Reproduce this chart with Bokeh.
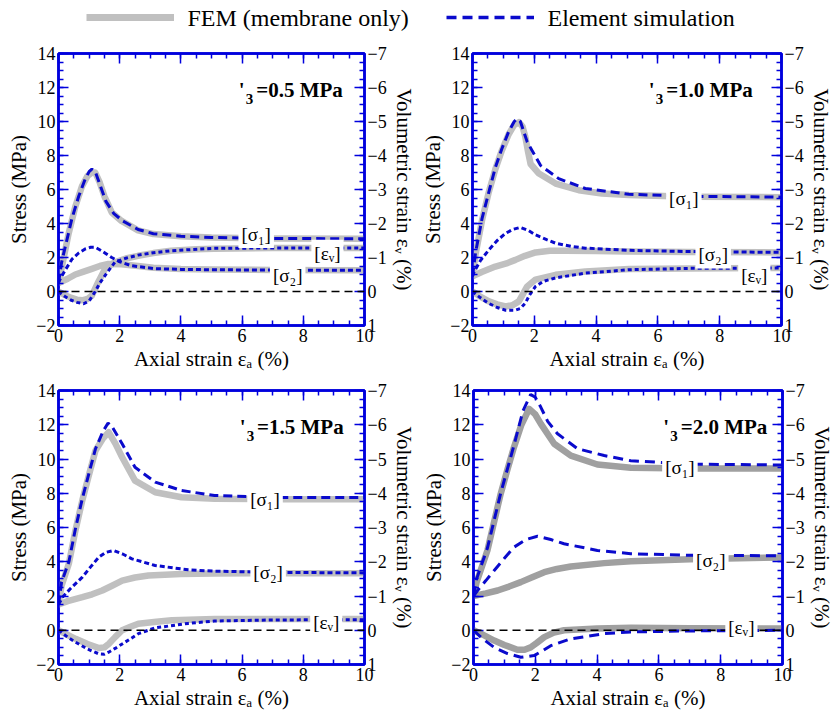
from bokeh.plotting import figure
from bokeh.models import (Range1d, LinearAxis, SingleIntervalTicker, Span, Label,
                          Legend, LegendItem)
from bokeh.core.properties import value
from bokeh.layouts import column, row
from bokeh.embed import file_html
from bokeh.resources import INLINE

# ---------------- data (axial strain %, stress MPa, volumetric strain %) ----------------
# Panel 1: sigma'3 = 0.5 MPa
p1_fem_s1_x = [0, 0.15, 0.33, 0.55, 0.77, 0.95, 1.1, 1.2, 1.35, 1.5, 1.74, 2.06, 2.6, 3.1, 4, 5, 7, 10]
p1_fem_s1_y = [0.5, 1.8, 3.4, 5.0, 6.2, 6.8, 7.0, 7.0, 6.4, 5.6, 4.65, 4.15, 3.6, 3.38, 3.25, 3.18, 3.12, 3.1]
p1_ele_s1_x = [0, 0.1, 0.23, 0.44, 0.66, 0.87, 1.0, 1.09, 1.2, 1.35, 1.55, 1.8, 2.1, 2.6, 3.1, 4, 5, 7, 10]
p1_ele_s1_y = [0.5, 1.7, 2.7, 4.3, 5.6, 6.6, 7.05, 7.2, 7.05, 6.3, 5.3, 4.6, 4.15, 3.65, 3.4, 3.25, 3.18, 3.12, 3.1]
p1_fem_s2_x = [0, 0.3, 0.55, 0.8, 1.09, 1.35, 1.63, 2.06, 2.6, 3.1, 4, 5, 7, 10]
p1_fem_s2_y = [0.5, 0.75, 1.0, 1.15, 1.33, 1.5, 1.62, 1.6, 1.5, 1.4, 1.33, 1.3, 1.27, 1.25]
p1_ele_s2_x = [0, 0.06, 0.2, 0.44, 0.65, 0.87, 1.05, 1.2, 1.4, 1.74, 2.0, 2.38, 3.1, 4, 5, 7, 10]
p1_ele_s2_y = [0.5, 0.75, 1.2, 1.9, 2.25, 2.5, 2.6, 2.6, 2.4, 2.0, 1.75, 1.52, 1.35, 1.3, 1.28, 1.26, 1.25]
p1_fem_ev_x = [0, 0.2, 0.4, 0.6, 0.77, 0.95, 1.09, 1.3, 1.52, 1.84, 2.2, 2.6, 3.1, 3.68, 4.5, 5.08, 7, 10]
p1_fem_ev_y = [0, 0.1, 0.18, 0.24, 0.26, 0.22, 0.12, -0.28, -0.66, -0.86, -0.97, -1.05, -1.13, -1.2, -1.24, -1.26, -1.28, -1.28]
p1_ele_ev_x = [0, 0.2, 0.4, 0.6, 0.82, 1.0, 1.2, 1.35, 1.52, 1.84, 2.2, 2.6, 3.1, 3.68, 5.08, 7, 10]
p1_ele_ev_y = [0, 0.14, 0.25, 0.32, 0.36, 0.28, 0.0, -0.25, -0.47, -0.86, -0.98, -1.07, -1.14, -1.2, -1.27, -1.28, -1.28]

# Panel 2: sigma'3 = 1.0 MPa
p2_fem_s1_x = [0, 0.1, 0.31, 0.52, 0.74, 0.95, 1.17, 1.35, 1.5, 1.62, 1.71, 1.8, 1.88, 2.15, 2.69, 3.44, 4.19, 5.06, 7, 10]
p2_fem_s1_y = [0.9, 2.2, 4.2, 5.8, 7.2, 8.3, 9.25, 9.8, 9.96, 9.7, 9.1, 8.2, 7.5, 6.94, 6.35, 5.96, 5.77, 5.67, 5.58, 5.55]
p2_ele_s1_x = [0, 0.1, 0.31, 0.55, 0.74, 0.95, 1.17, 1.35, 1.44, 1.55, 1.77, 2.2, 2.79, 3.65, 5.06, 7, 10]
p2_ele_s1_y = [0.9, 2.3, 4.3, 6.0, 7.3, 8.4, 9.4, 10.0, 10.15, 10.0, 8.8, 7.42, 6.64, 6.06, 5.72, 5.6, 5.55]
p2_fem_s2_x = [0, 0.3, 0.74, 1.1, 1.39, 1.7, 2.04, 2.5, 3, 4, 5, 7, 10]
p2_fem_s2_y = [0.9, 1.15, 1.47, 1.65, 1.86, 2.1, 2.3, 2.4, 2.4, 2.38, 2.35, 2.32, 2.3]
p2_ele_s2_x = [0, 0.05, 0.25, 0.53, 0.8, 1.07, 1.3, 1.55, 1.8, 2.04, 2.4, 2.69, 3.2, 3.65, 5.06, 7, 10]
p2_ele_s2_y = [0.9, 1.15, 1.8, 2.45, 3.0, 3.42, 3.65, 3.77, 3.6, 3.33, 3.05, 2.84, 2.65, 2.55, 2.42, 2.35, 2.3]
p2_fem_ev_x = [0, 0.25, 0.53, 0.8, 1.07, 1.3, 1.5, 1.65, 1.77, 2.04, 2.69, 3.65, 5.06, 7, 10]
p2_fem_ev_y = [0, 0.15, 0.29, 0.38, 0.44, 0.4, 0.29, 0.05, -0.15, -0.35, -0.49, -0.59, -0.66, -0.68, -0.69]
p2_ele_ev_x = [0, 0.25, 0.53, 0.8, 1.07, 1.39, 1.55, 1.71, 1.85, 2.04, 2.3, 2.69, 3.65, 5.06, 7, 10]
p2_ele_ev_y = [0, 0.18, 0.35, 0.47, 0.55, 0.55, 0.5, 0.34, 0.1, -0.15, -0.3, -0.4, -0.54, -0.64, -0.68, -0.69]

# Panel 3: sigma'3 = 1.5 MPa
p3_fem_s1_x = [0, 0.1, 0.34, 0.55, 0.78, 1.0, 1.21, 1.45, 1.64, 1.86, 2.08, 2.5, 3.16, 4.02, 5.1, 7, 10]
p3_fem_s1_y = [1.5, 2.6, 3.9, 5.8, 7.6, 9.1, 10.5, 11.2, 11.57, 10.9, 10.1, 8.74, 8.06, 7.77, 7.68, 7.65, 7.65]
p3_ele_s1_x = [0, 0.1, 0.34, 0.55, 0.78, 1.0, 1.21, 1.45, 1.62, 1.75, 2.08, 2.5, 3.16, 4.02, 5.1, 7, 10]
p3_ele_s1_y = [1.5, 2.8, 4.0, 5.9, 7.7, 9.2, 10.6, 11.6, 12.1, 11.9, 10.89, 9.52, 8.65, 8.16, 7.87, 7.75, 7.75]
p3_fem_s2_x = [0, 0.3, 0.78, 1.1, 1.43, 1.75, 2.08, 2.5, 2.94, 4, 5.1, 7, 10]
p3_fem_s2_y = [1.5, 1.7, 1.93, 2.1, 2.32, 2.6, 2.9, 3.08, 3.2, 3.28, 3.32, 3.33, 3.33]
p3_ele_s2_x = [0, 0.13, 0.4, 0.78, 1.05, 1.32, 1.55, 1.8, 2.1, 2.4, 3.16, 4.24, 5.1, 7, 10]
p3_ele_s2_y = [1.5, 1.93, 2.45, 3.1, 3.7, 4.27, 4.55, 4.66, 4.45, 4.17, 3.78, 3.53, 3.45, 3.38, 3.35]
p3_fem_ev_x = [0, 0.3, 0.56, 0.95, 1.32, 1.5, 1.64, 1.85, 2.08, 2.35, 2.61, 3.2, 3.7, 5.1, 7, 10]
p3_fem_ev_y = [0, 0.14, 0.25, 0.4, 0.52, 0.5, 0.4, 0.2, 0, -0.1, -0.19, -0.25, -0.29, -0.33, -0.33, -0.33]
p3_ele_ev_x = [0, 0.3, 0.56, 0.95, 1.32, 1.5, 1.64, 1.85, 2.08, 2.35, 2.61, 3.16, 4.24, 5.1, 7, 10]
p3_ele_ev_y = [0, 0.2, 0.35, 0.55, 0.69, 0.7, 0.64, 0.53, 0.4, 0.25, 0.1, -0.07, -0.2, -0.27, -0.3, -0.31]

# Panel 4: sigma'3 = 2.0 MPa
p4_fem_s1_x = [0, 0.1, 0.45, 0.88, 1.1, 1.31, 1.55, 1.8, 2.0, 2.18, 2.61, 3.15, 4.01, 5.09, 7, 10]
p4_fem_s1_y = [2.0, 2.8, 4.66, 7.97, 9.4, 10.69, 12.0, 12.93, 12.6, 12.05, 10.89, 10.2, 9.68, 9.49, 9.45, 9.45]
p4_ele_s1_x = [0, 0.1, 0.45, 0.88, 1.31, 1.6, 1.85, 2.0, 2.18, 2.4, 2.72, 3.37, 4.23, 5.09, 7, 10]
p4_ele_s1_y = [2.0, 3.0, 4.8, 8.0, 10.8, 12.8, 13.77, 13.6, 13.02, 12.2, 11.47, 10.6, 10.2, 9.9, 9.7, 9.65]
p4_fem_s2_x = [0, 0.4, 0.78, 1.15, 1.53, 1.9, 2.29, 2.7, 3.15, 4.23, 5.09, 7, 10]
p4_fem_s2_y = [2.0, 2.15, 2.32, 2.55, 2.81, 3.1, 3.39, 3.58, 3.72, 3.92, 4.03, 4.15, 4.25]
p4_ele_s2_x = [0, 0.13, 0.4, 0.67, 1.0, 1.31, 1.7, 2.07, 2.5, 2.93, 4.01, 5.09, 7, 10]
p4_ele_s2_y = [2.0, 2.32, 2.9, 3.49, 4.2, 4.85, 5.3, 5.49, 5.3, 5.05, 4.66, 4.47, 4.38, 4.35]
p4_fem_ev_x = [0, 0.3, 0.67, 1.0, 1.42, 1.65, 1.85, 2.05, 2.29, 2.6, 2.93, 4, 5.1, 7, 10]
p4_fem_ev_y = [0, 0.13, 0.3, 0.43, 0.57, 0.57, 0.5, 0.37, 0.2, 0.07, 0, -0.05, -0.07, -0.06, -0.05]
p4_ele_ev_x = [0, 0.3, 0.67, 1.1, 1.53, 1.96, 2.2, 2.5, 3.15, 4.23, 5.09, 7, 10]
p4_ele_ev_y = [0, 0.25, 0.5, 0.68, 0.79, 0.74, 0.62, 0.45, 0.25, 0.1, 0.05, 0.02, 0.0]

panel_titles = ["=0.5 MPa", "=1.0 MPa", "=1.5 MPa", "=2.0 MPa"]
legend_labels = ["FEM (membrane only)", "Element simulation"]
curve_labels = ["[σ\u2081]", "[σ\u2082]", "[ε\u1d65]"]
x_label = "Axial strain ε\u2090 (%)"
y_label = "Stress (MPa)"
y2_label = "Volumetric strain ε\u1d65 (%)"

# ---------------- styling ----------------
FONT = "'Liberation Serif'"
FRAME_BLUE = "#0000dd"
LINE_BLUE = "#0a0acc"
GRAY_LIGHT = "#c0c0c0"
GRAY_DARK = "#a0a0a0"


def style_axis(ax, label_size="18px"):
    ax.axis_line_color = FRAME_BLUE
    ax.axis_line_width = 2.5
    ax.major_tick_line_color = FRAME_BLUE
    ax.minor_tick_line_color = FRAME_BLUE
    ax.major_tick_line_width = 1.5
    ax.minor_tick_line_width = 1.5
    ax.major_tick_in = 10
    ax.major_tick_out = 0
    ax.minor_tick_in = 5
    ax.minor_tick_out = 0
    ax.major_label_text_font = FONT
    ax.major_label_text_font_size = label_size
    ax.major_label_text_color = "black"
    ax.major_label_standoff = 3
    ax.axis_label_text_font = FONT
    ax.axis_label_text_font_size = "21px"
    ax.axis_label_text_font_style = "normal"
    ax.axis_label_text_color = "black"
    ax.axis_label_standoff = 2


def make_panel(width, height, borders, data, title, title_x, label_pos, gray, dashes):
    bl, br, bt, bb = borders
    p = figure(width=width, height=height, x_range=Range1d(0, 10), y_range=Range1d(-2, 14),
               output_backend="svg", toolbar_location=None,
               min_border_left=bl, min_border_right=br, min_border_top=bt, min_border_bottom=bb)
    p.extra_y_ranges = {"ev": Range1d(1, -7)}
    p.xgrid.visible = False
    p.ygrid.visible = False
    p.outline_line_color = FRAME_BLUE
    p.outline_line_width = 2.5
    p.background_fill_color = "white"
    p.border_fill_color = "white"

    p.xaxis.ticker = SingleIntervalTicker(interval=2, num_minor_ticks=4)
    p.yaxis.ticker = SingleIntervalTicker(interval=2, num_minor_ticks=4)
    p.xaxis.axis_label = x_label
    p.yaxis.axis_label = y_label
    style_axis(p.xaxis[0])
    style_axis(p.yaxis[0])

    top = LinearAxis(ticker=SingleIntervalTicker(interval=2, num_minor_ticks=4))
    style_axis(top, label_size="1px")
    top.major_label_text_alpha = 0
    top.major_label_standoff = 0
    p.add_layout(top, "above")

    right = LinearAxis(y_range_name="ev", ticker=SingleIntervalTicker(interval=1, num_minor_ticks=4),
                       axis_label=y2_label)
    style_axis(right)
    p.add_layout(right, "right")

    (fs1x, fs1y, es1x, es1y, fs2x, fs2y, es2x, es2y, fevx, fevy, eevx, eevy) = data
    d1, d2, d3 = dashes
    p.line(fs1x, fs1y, line_color=gray, line_width=6.5, line_join="round", line_cap="round")
    p.line(fs2x, fs2y, line_color=gray, line_width=6.5, line_join="round", line_cap="round")
    p.line(fevx, fevy, y_range_name="ev", line_color=gray, line_width=6.5, line_join="round", line_cap="round")
    p.line(es1x, es1y, line_color=LINE_BLUE, line_width=3, line_dash=d1)
    p.line(es2x, es2y, line_color=LINE_BLUE, line_width=3, line_dash=d2)
    p.line(eevx, eevy, y_range_name="ev", line_color=LINE_BLUE, line_width=3, line_dash=d3)

    p.add_layout(Span(location=0, dimension="width", line_color="black", line_dash="8 5", line_width=1.5))

    for txt, (lx, ly) in zip(curve_labels, label_pos):
        p.add_layout(Label(x=lx, y=ly, text=txt, text_align="center", text_baseline="middle",
                           text_font=FONT, text_font_size="19px", text_color="black",
                           background_fill_color="white", padding=3))

    ty = 11.85
    p.add_layout(Label(x=title_x, y=ty, text=title, text_align="right", text_baseline="alphabetic",
                       text_font=FONT, text_font_size="21px", text_font_style="bold",
                       text_color="black"))
    p.add_layout(Label(x=title_x, y=ty, x_offset=-97, y_offset=-9, text="3", text_align="left",
                       text_baseline="alphabetic", text_font=FONT, text_font_size="15px",
                       text_font_style="bold", text_color="black"))
    p.add_layout(Label(x=title_x, y=ty, x_offset=-104, text="'", text_align="left",
                       text_baseline="alphabetic", text_font=FONT, text_font_size="21px",
                       text_font_style="bold", text_color="black"))
    return p


short = ("9 5", "5 3", "4 3")
longd = ("10 6", "10 6", "10 6")

p1 = make_panel(418, 337, (58, 51, 17, 46),
                (p1_fem_s1_x, p1_fem_s1_y, p1_ele_s1_x, p1_ele_s1_y, p1_fem_s2_x, p1_fem_s2_y,
                 p1_ele_s2_x, p1_ele_s2_y, p1_fem_ev_x, p1_fem_ev_y, p1_ele_ev_x, p1_ele_ev_y),
                panel_titles[0], 9.29, [(6.46, 3.35), (7.49, 0.95), (8.79, 2.25)], GRAY_LIGHT, short)
p2 = make_panel(418, 337, (54, 55, 17, 46),
                (p2_fem_s1_x, p2_fem_s1_y, p2_ele_s1_x, p2_ele_s1_y, p2_fem_s2_x, p2_fem_s2_y,
                 p2_ele_s2_x, p2_ele_s2_y, p2_fem_ev_x, p2_fem_ev_y, p2_ele_ev_x, p2_ele_ev_y),
                panel_titles[1], 9.07, [(6.84, 5.47), (7.79, 2.15), (9.12, 0.92)], GRAY_LIGHT, short)
p3 = make_panel(418, 343, (58, 51, 17, 52),
                (p3_fem_s1_x, p3_fem_s1_y, p3_ele_s1_x, p3_ele_s1_y, p3_fem_s2_x, p3_fem_s2_y,
                 p3_ele_s2_x, p3_ele_s2_y, p3_fem_ev_x, p3_fem_ev_y, p3_ele_ev_x, p3_ele_ev_y),
                panel_titles[2], 9.32, [(6.75, 7.62), (6.85, 3.35), (8.75, 0.47)], GRAY_LIGHT, short)
p4 = make_panel(418, 343, (55, 54, 17, 52),
                (p4_fem_s1_x, p4_fem_s1_y, p4_ele_s1_x, p4_ele_s1_y, p4_fem_s2_x, p4_fem_s2_y,
                 p4_ele_s2_x, p4_ele_s2_y, p4_fem_ev_x, p4_fem_ev_y, p4_ele_ev_x, p4_ele_ev_y),
                panel_titles[3], 9.51, [(6.68, 9.52), (7.68, 4.07), (8.67, 0.18)], GRAY_DARK, longd)

# ---------------- legend header ----------------
# the header's range lies far outside the data, so its renderers only feed the legend samples
hdr = figure(width=836, height=36, x_range=Range1d(100, 101), y_range=Range1d(100, 101),
             x_axis_type=None, y_axis_type=None, output_backend="svg", toolbar_location=None,
             min_border=0)
hdr.xgrid.visible = False
hdr.ygrid.visible = False
hdr.outline_line_color = None
r_fem = hdr.line(p1_fem_s1_x, p1_fem_s1_y, line_color=GRAY_LIGHT, line_width=7)
r_ele = hdr.line(p1_ele_s1_x, p1_ele_s1_y, line_color=LINE_BLUE, line_width=3.5, line_dash="10 6")
leg = Legend(items=[LegendItem(label=value(""), renderers=[r_fem]),
                    LegendItem(label=value(""), renderers=[r_ele])],
             orientation="horizontal", location=(86, 7), glyph_width=88, glyph_height=24,
             label_height=24, label_width=0, label_standoff=0, spacing=272, padding=0, margin=0,
             border_line_color=None, background_fill_alpha=0, label_text_font_size="1px")
hdr.add_layout(leg)
for txt, lx in zip(legend_labels, [187, 547]):
    hdr.add_layout(Label(x=lx, y=19, x_units="screen", y_units="screen", text=txt,
                         text_align="left", text_baseline="middle", text_font=FONT,
                         text_font_size="24px", text_color="black"))

layout = column(hdr, row(p1, p2), row(p3, p4))
open("out.html", "w").write(file_html(layout, INLINE))
